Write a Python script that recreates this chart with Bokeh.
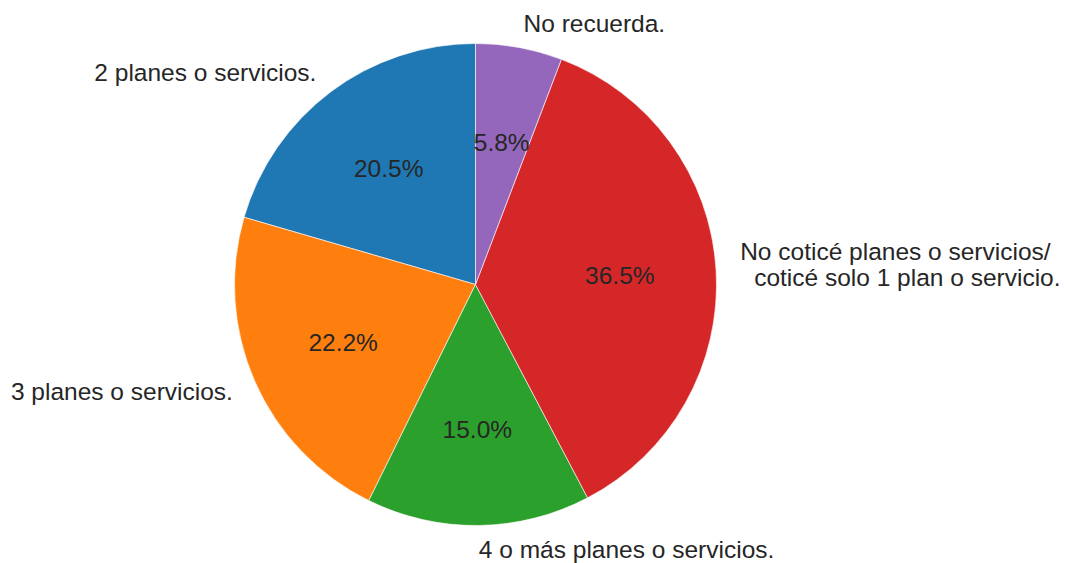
import math
from bokeh.plotting import figure
from bokeh.models import Range1d, ColumnDataSource
from bokeh.embed import file_html
from bokeh.resources import INLINE
from bokeh.core.properties import value

labels = ["2 planes o servicios.", "3 planes o servicios.", "4 o más planes o servicios.",
          "No coticé planes o servicios/\ncoticé solo 1 plan o servicio.", "No recuerda."]
values = [20.5, 22.2, 15.0, 36.5, 5.8]
colors = ["#1f77b4", "#ff7f0e", "#2ca02c", "#d62728", "#9467bd"]

W, H = 1066, 563
CX, CY, R = 475, 284, 241.0  # pixel coords inside the frame

p = figure(width=W, height=H, output_backend="svg", toolbar_location=None,
           min_border=0, x_range=Range1d((0 - CX) / R, (W - CX) / R),
           y_range=Range1d((CY - H) / R, CY / R))
p.axis.visible = False
p.grid.visible = False
p.outline_line_color = None
p.background_fill_color = "white"
p.border_fill_color = "white"

total = sum(values)
starts, ends = [], []
a = 90.0
for v in values:
    starts.append(math.radians(a))
    a += 360.0 * v / total
    ends.append(math.radians(a))

src = ColumnDataSource(dict(start=starts, end=ends, color=colors))
p.wedge(x=0, y=0, radius=1, start_angle="start", end_angle="end", fill_color="color",
        line_color="white", line_width=0.6, source=src)

font = value("Liberation Sans")
tcol = "#262626"
fs = "24.5px"
for lab, v, s, e in zip(labels, values, starts, ends):
    m = (s + e) / 2
    cx, cy = math.cos(m), math.sin(m)
    p.text(x=[0.6 * cx], y=[0.6 * cy], text=["%.1f%%" % v], text_font=font,
           text_font_size=fs, text_color=tcol, text_align="center",
           text_baseline="middle")
    align = "left" if cx > 0 else "right"
    lines = lab.split("\n")
    n = len(lines)
    lh = 26.0
    for i, ln in enumerate(lines):
        off = (i - (n - 1) / 2) * lh
        p.text(x=[1.1 * cx], y=[1.1 * cy], text=[ln], text_font=font,
               text_font_size=fs, text_color=tcol, text_align=align,
               text_baseline="middle", y_offset=off - 4 * (n - 1), x_offset=14 * i)

open("out.html", "w").write(file_html(p, INLINE))
